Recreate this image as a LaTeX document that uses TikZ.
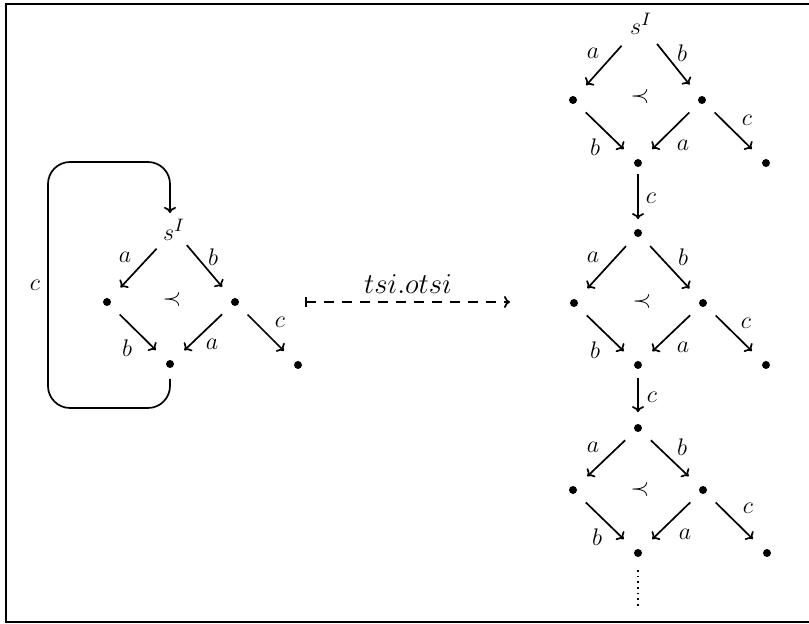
\documentclass[tikz,border=0pt]{standalone}
\usetikzlibrary{arrows.meta}
\begin{document}
\begin{tikzpicture}[x=0.5pt,y=-0.5pt, line width=0.85pt,
  dot/.style={circle,fill,inner sep=0pt,minimum size=4pt},
  tip/.style={-{To[length=3pt,width=6pt]}},
  ar/.style={tip, shorten <=6.5pt, shorten >=7.5pt},
  arc/.style={tip, shorten <=3pt, shorten >=4.5pt},
  lab/.style={inner sep=0pt, font=\fontsize{12pt}{14pt}\selectfont},
  top/.style={inner sep=0pt, font=\fontsize{13pt}{15pt}\selectfont}]
\useasboundingbox (0,0) rectangle (809,624);
% frame
\coordinate (f1) at (809,4); \coordinate (f2) at (6,4);
\coordinate (f3) at (6,622); \coordinate (f4) at (809,622);
\draw[line width=1pt] (f1) -- (f2) -- (f3) -- (f4);

% ---------- left diagram ----------
\node[top] (lT) at (174,230) {$s^I$};
\node[dot] (lL) at (107,302) {};
\node[dot] (lR) at (235,302) {};
\node[dot] (lB) at (170,364) {};
\node[dot] (lX) at (298,365) {};
\draw[ar, shorten <=5pt] (lT) -- (lL);
\draw[ar, shorten <=2.5pt] (lT) -- (lR);
\draw[ar] (lL) -- (lB);
\draw[ar] (lR) -- (lB);
\draw[ar] (lR) -- (lX);
\node[lab] (la1) at (125,257) {$a$};
\node[lab] (lb1) at (213,257) {$b$};
\node[lab] (lb2) at (127,348) {$b$};
\node[lab] (la2) at (212,344) {$a$};
\node[lab] (lc1) at (280,322) {$c$};
\node[lab] (lp) at (172,300) {$\prec$};
% loop
\coordinate (lk1) at (48,408);
\coordinate (lk2) at (48,162);
\coordinate (lin) at (170,213);
\draw[tip, rounded corners=11pt, shorten <=5pt] (lB) -- (lB |- lk1) -- (lk1) -- (lk2) -- (lk2 -| lin) -- (lin);
\node[lab] (lcl) at (35,285) {$c$};

% ---------- mapping arrow ----------
\coordinate (ms) at (305,302);
\coordinate (me) at (510,302);
\draw[dash pattern=on 5pt off 4pt, {Bar[width=5pt]}-{To[length=3pt,width=6pt]}] (ms) -- (me);
\node[inner sep=0pt, font=\fontsize{14pt}{16pt}\selectfont] (mlab) at (408,284) {$tsi.otsi$};

% ---------- right: diamond 1 ----------
\node[top] (aT) at (641,24) {$s^I$};
\node[dot] (aL) at (573,100) {};
\node[dot] (aR) at (702,100) {};
\node[dot] (aB) at (638,163) {};
\node[dot] (aX) at (766,163) {};
\draw[ar, shorten <=7pt] (aT) -- (aL);
\draw[ar, shorten <=5.5pt] (aT) -- (aR);
\draw[ar] (aL) -- (aB);
\draw[ar] (aR) -- (aB);
\draw[ar] (aR) -- (aX);
\node[lab] (aa1) at (593,53) {$a$};
\node[lab] (ab1) at (682,53) {$b$};
\node[lab] (ab2) at (595,147) {$b$};
\node[lab] (aa2) at (683,145) {$a$};
\node[lab] (ac1) at (747,120) {$c$};
\node[lab] (ap) at (640,97) {$\prec$};

% ---------- right: diamond 2 ----------
\node[dot] (bT) at (638,233) {};
\node[dot] (bL) at (574,303) {};
\node[dot] (bR) at (703,303) {};
\node[dot] (bB) at (638,365) {};
\node[dot] (bX) at (766,365) {};
\draw[arc] (aB) -- (bT);
\node[lab] (bcv) at (651,198) {$c$};
\draw[ar] (bT) -- (bL);
\draw[ar] (bT) -- (bR);
\draw[ar] (bL) -- (bB);
\draw[ar] (bR) -- (bB);
\draw[ar] (bR) -- (bX);
\node[lab] (ba1) at (593,257) {$a$};
\node[lab] (bb1) at (683,257) {$b$};
\node[lab] (bb2) at (595,350) {$b$};
\node[lab] (ba2) at (683,347) {$a$};
\node[lab] (bc1) at (746,323) {$c$};
\node[lab] (bp) at (642,302) {$\prec$};

% ---------- right: diamond 3 ----------
\node[dot] (cT) at (638,428) {};
\node[dot] (cL) at (573,490) {};
\node[dot] (cR) at (703,490) {};
\node[dot] (cB) at (638,553) {};
\node[dot] (cX) at (767,553) {};
\draw[arc, shorten <=4pt, shorten >=5.5pt] (bB) -- (cT);
\node[lab] (ccv) at (652,397) {$c$};
\draw[ar] (cT) -- (cL);
\draw[ar] (cT) -- (cR);
\draw[ar] (cL) -- (cB);
\draw[ar] (cR) -- (cB);
\draw[ar] (cR) -- (cX);
\node[lab] (ca1) at (593,447) {$a$};
\node[lab] (cb1) at (682,447) {$b$};
\node[lab] (cb2) at (597,537) {$b$};
\node[lab] (ca2) at (685,534) {$a$};
\node[lab] (cc1) at (748,508) {$c$};
\node[lab] (cp) at (640,490) {$\prec$};
\coordinate (dend) at (638,608);
\draw[dotted, shorten <=6pt] (cB) -- (dend);
\end{tikzpicture}
\end{document}
